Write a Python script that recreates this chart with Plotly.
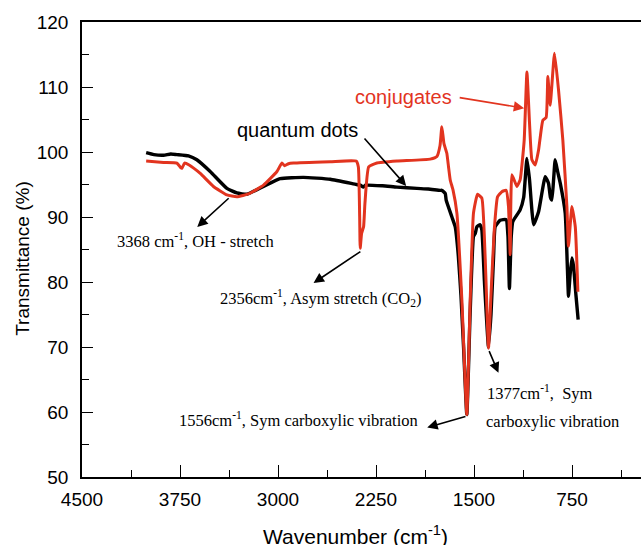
import plotly.graph_objects as go

# ---------------- data ----------------
qd_wn = [4009, 3950, 3876, 3820, 3774, 3685, 3621, 3519, 3391, 3315, 3238, 3111, 2983, 2805,
         2600, 2400, 2371, 2346, 2330, 2200, 2090, 1937, 1850, 1759, 1746, 1720, 1713, 1669,
         1644, 1620, 1600, 1580, 1555, 1530, 1504, 1490, 1478, 1453, 1440, 1420, 1389, 1370,
         1350, 1338, 1300, 1254, 1240, 1229, 1215, 1203, 1147, 1120, 1095, 1075, 1044, 1006,
         955, 930, 915, 904, 890, 879, 860, 840, 802, 785, 777, 765, 751, 738, 720, 703]
qd_T = [99.9, 99.6, 99.5, 99.7, 99.6, 99.4, 98.8, 97.0, 94.4, 93.7, 93.5, 94.7, 95.9, 96.1,
        95.8, 95.0, 94.9, 94.6, 94.9, 94.8, 94.6, 94.4, 94.3, 94.1, 94.1, 93.6, 92.6, 90.0,
        88.5, 84.0, 78.0, 70.0, 59.6, 75.0, 87.0, 87.5, 88.5, 88.8, 88.0, 80.0, 70.0, 75.0,
        84.0, 88.5, 89.5, 89.6, 87.0, 79.0, 87.0, 89.3, 91.1, 93.0, 99.0, 95.7, 88.8, 90.8,
        96.2, 95.2, 93.0, 92.6, 96.0, 98.8, 97.0, 95.2, 90.6, 82.0, 77.8, 81.0, 83.7, 82.4,
        78.0, 74.2]

cj_wn = [4009, 3876, 3774, 3745, 3735, 3715, 3680, 3595, 3494, 3391, 3315, 3220, 3111, 3008,
         2970, 2950, 2920, 2881, 2600, 2402, 2385, 2375, 2371, 2360, 2345, 2335, 2306, 2243,
         2090, 1835, 1784, 1760, 1746, 1730, 1708, 1695, 1682, 1660, 1631, 1593, 1555, 1529,
         1504, 1473, 1440, 1415, 1389, 1370, 1345, 1320, 1287, 1254, 1236, 1223, 1210, 1172,
         1147, 1116, 1095, 1075, 1057, 1031, 1006, 973, 948, 935, 917, 884, 853, 820, 789,
         777, 751, 725, 705]
cj_T = [98.6, 98.4, 98.3, 97.6, 97.5, 98.3, 98.0, 96.7, 94.7, 93.4, 93.1, 93.6, 94.9, 97.0,
        98.3, 97.9, 98.2, 98.3, 98.5, 98.6, 97.7, 90.0, 85.2, 87.5, 88.5, 92.0, 97.7, 98.3,
        98.6, 98.9, 99.3, 101.0, 103.9, 101.3, 99.8, 97.7, 95.7, 94.1, 90.6, 77.3, 59.6, 77.3,
        90.6, 93.5, 92.9, 84.0, 69.8, 78.0, 88.0, 93.1, 93.9, 94.1, 91.6, 84.2, 96.5, 94.7,
        95.7, 101.8, 112.3, 104.4, 98.8, 98.0, 100.3, 104.9, 105.3, 111.6, 107.2, 115.2, 109.5,
        101.8, 91.6, 85.5, 91.6, 88.5, 78.5]

x_ticks = [4500, 3750, 3000, 2250, 1500, 750]
x_ticktext = ["4500", "3750", "3000", "2250", "1500", "750"]
y_ticks = [50, 60, 70, 80, 90, 100, 110, 120]

RED = "#E2341F"
SANS = "Liberation Sans, Arial, Helvetica, sans-serif"
SERIF = "Liberation Serif, Times New Roman, serif"

fig = go.Figure()
fig.add_trace(go.Scatter(x=qd_wn, y=qd_T, mode="lines", name="quantum dots",
                         line=dict(color="black", width=3.4, shape="spline", smoothing=0.4)))
fig.add_trace(go.Scatter(x=cj_wn, y=cj_T, mode="lines", name="conjugates",
                         line=dict(color=RED, width=3, shape="spline", smoothing=0.4)))

fig.update_layout(
    width=641, height=545,
    margin=dict(l=82, r=0, t=22, b=68),
    paper_bgcolor="white", plot_bgcolor="white",
    showlegend=False,
    font=dict(family=SANS, size=19, color="black"),
)
fig.update_xaxes(
    range=[4500, 222], tickvals=x_ticks, ticktext=x_ticktext,
    ticks="inside", ticklen=12, tickwidth=1, tickcolor="black",
    minor=dict(ticks="inside", ticklen=7, dtick=375, tick0=0, tickcolor="black"),
    showline=True, linecolor="black", linewidth=1.5, mirror=True,
    showgrid=False, zeroline=False,
    tickfont=dict(family=SANS, size=19), ticklabelstandoff=4,
)
fig.update_yaxes(
    range=[50, 120], tickvals=y_ticks,
    ticks="inside", ticklen=11, tickwidth=1, tickcolor="black",
    minor=dict(ticks="inside", ticklen=7, dtick=5, tick0=0, tickcolor="black"),
    showline=True, linecolor="black", linewidth=1.5,
    showgrid=False, zeroline=False,
    tickfont=dict(family=SANS, size=19), ticklabelstandoff=8,
)

# axis titles
fig.add_annotation(text="Wavenumber (cm<sup>-1</sup>)", xref="paper", yref="paper",
                   x=0.49, y=-0.127, xanchor="center", yanchor="middle",
                   showarrow=False, font=dict(family=SANS, size=21))
fig.add_annotation(text="Transmittance (%)", xref="paper", yref="paper",
                   x=-0.107, y=0.48, xanchor="center", yanchor="middle", textangle=-90,
                   showarrow=False, font=dict(family=SANS, size=19))

# arrows (tip at x,y ; tail at ax,ay)
arrows = [
    (1116, 106.75, 1621, 108.4, RED),
    (2019, 94.78, 2348, 102.3, "black"),
    (3618, 88.48, 3366, 93.09, "black"),
    (2728, 79.84, 2358, 84.84, "black"),
    (1858, 57.63, 1554, 59.36, "black"),
    (1313, 66.03, 1389, 69.6, "black"),
]
for x, y, ax, ay, c in arrows:
    fig.add_annotation(x=x, y=y, ax=ax, ay=ay, xref="x", yref="y", axref="x", ayref="y",
                       text="", showarrow=True, arrowhead=2, arrowsize=1.3,
                       arrowwidth=1.6, arrowcolor=c)

# labels
fig.add_annotation(text="conjugates", x=2425, y=108.4, xref="x", yref="y",
                   xanchor="left", yanchor="middle", showarrow=False,
                   font=dict(family=SANS, size=20, color=RED))
fig.add_annotation(text="quantum dots", x=3328, y=103.4, xref="x", yref="y",
                   xanchor="left", yanchor="middle", showarrow=False,
                   font=dict(family=SANS, size=20, color="black"))
serif_labels = [
    ("3368 cm<sup>-1</sup>, OH - stretch", 4246, 86.4),
    ("2356cm<sup>-1</sup>, Asym stretch (CO<sub>2</sub>)", 3458, 77.6),
    ("1556cm<sup>-1</sup>, Sym carboxylic vibration", 3771, 58.9),
    ("1377cm<sup>-1</sup>,  Sym", 1414, 63.0),
    ("carboxylic vibration", 1421, 58.5),
]
for t, x, y in serif_labels:
    fig.add_annotation(text=t, x=x, y=y, xref="x", yref="y", xanchor="left",
                       yanchor="middle", showarrow=False,
                       font=dict(family=SERIF, size=16.5, color="black"))

fig.write_html("out.html")
